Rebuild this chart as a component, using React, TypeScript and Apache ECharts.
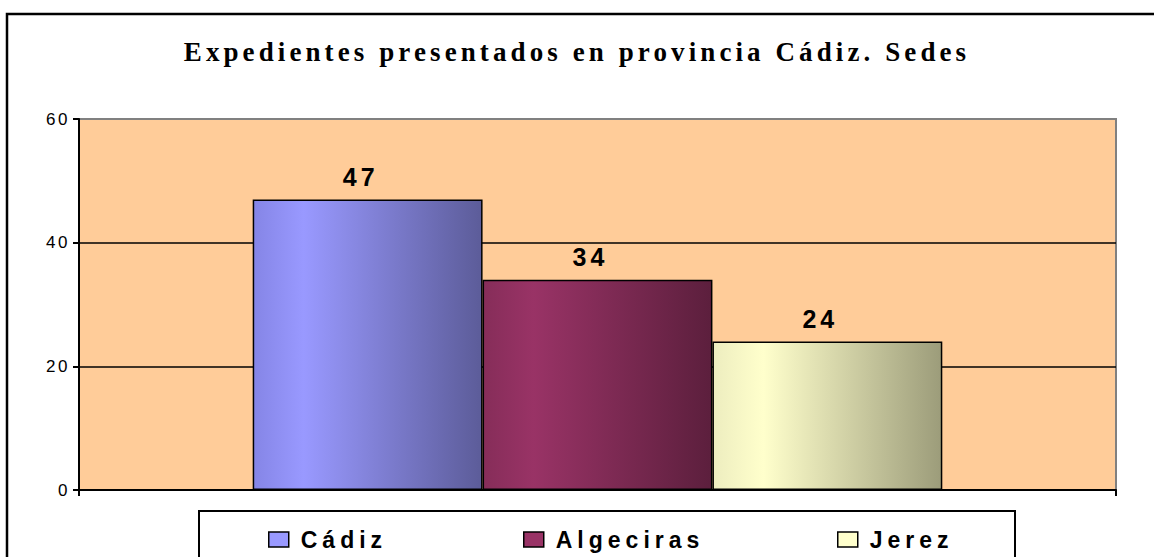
import React, { useEffect, useRef } from "react";
import * as echarts from "echarts";

const titleText = "Expedientes presentados en provincia Cádiz. Sedes";
const categories = ["Sedes"];
const seriesNames = ["Cádiz", "Algeciras", "Jerez"];
const values = [47, 34, 24];
const baseColors = ["#9999ff", "#993366", "#ffffcc"];
const gradStops = [
  ["#8585e6", "#9999ff", "#5c5c99"],
  ["#862d59", "#993366", "#5c1f3d"],
  ["#ededbf", "#ffffcc", "#9c9c7a"],
];
const yMin = 0;
const yMax = 60;
const yInterval = 20;
const legendLefts = [268, 523, 837];

export default function App() {
  const ref = useRef<HTMLDivElement>(null);
  useEffect(() => {
    if (!ref.current) return;
    const el = ref.current;
    const chart = echarts.init(el, null, { renderer: "svg" });
    const option: any = {
      animation: false,
      backgroundColor: "#ffffff",
      title: {
        text: titleText,
        left: "center",
        top: 33,
        textStyle: {
          fontFamily: "Liberation Serif",
          fontWeight: "bold",
          fontSize: 27,
          color: "#000",
        },
      },
      grid: {
        left: 79,
        top: 119,
        right: 38,
        bottom: 67,
        show: true,
        backgroundColor: "#ffcc99",
        borderColor: "#808080",
        borderWidth: 2,
      },
      legend: seriesNames.map((n, i) => ({
        data: [
          {
            name: n,
            icon: "rect",
            itemStyle: { color: baseColors[i], borderColor: "#000", borderWidth: 1.5 },
          },
        ],
        left: legendLefts[i],
        top: 528,
        padding: 0,
        itemWidth: 20,
        itemHeight: 15,
        selectedMode: false,
        textStyle: {
          fontFamily: "Liberation Sans",
          fontWeight: "bold",
          fontSize: 23,
          color: "#000",
          padding: [0, 0, 0, 7],
        },
      })),
      xAxis: {
        type: "category",
        data: categories,
        axisLine: { show: true, lineStyle: { color: "#000", width: 2 } },
        axisTick: { show: true, length: 6, lineStyle: { color: "#000", width: 2 } },
        axisLabel: { show: false },
        splitLine: { show: false },
      },
      yAxis: {
        type: "value",
        min: yMin,
        max: yMax,
        interval: yInterval,
        axisLine: { show: true, lineStyle: { color: "#000", width: 2 } },
        axisTick: { show: true, length: 6, lineStyle: { color: "#000", width: 2 } },
        axisLabel: {
          fontFamily: "Liberation Sans",
          fontSize: 17,
          color: "#000",
          margin: 9,
        },
        splitLine: {
          show: true,
          lineStyle: { color: ["#000", "#000", "#000", "#808080"], width: 1.5 },
        },
      },
      graphic: [
        {
          type: "rect",
          shape: { x: 7, y: 14, width: 1300, height: 700 },
          style: { fill: "none", stroke: "#000", lineWidth: 2.5 },
          silent: true,
          z: -10,
        },
        {
          type: "rect",
          shape: { x: 199, y: 511, width: 816, height: 100 },
          style: { fill: "#fff", stroke: "#000", lineWidth: 2 },
          silent: true,
          z: -5,
        },
      ],
      series: seriesNames.map((n, i) => ({
        name: n,
        type: "bar",
        data: [values[i]],
        barGap: "0%",
        barCategoryGap: "33.5%",
        itemStyle: {
          color: new echarts.graphic.LinearGradient(0, 0, 1, 0, [
            { offset: 0, color: gradStops[i][0] },
            { offset: 0.22, color: gradStops[i][1] },
            { offset: 1, color: gradStops[i][2] },
          ]),
          borderColor: "#000",
          borderWidth: 1.5,
        },
        label: {
          show: true,
          position: "top",
          distance: 10,
          offset: [-7, 0],
          fontFamily: "Liberation Sans",
          fontWeight: "bold",
          fontSize: 25,
          color: "#000",
        },
      })),
    };
    chart.setOption(option);
    const spacing = () => {
      el.querySelectorAll("text").forEach((t) => {
        const s = (t.textContent || "").trim();
        if (s === titleText) t.setAttribute("letter-spacing", "4.1");
        else if (seriesNames.includes(s)) t.setAttribute("letter-spacing", "5");
        else if (values.map(String).includes(s)) t.setAttribute("letter-spacing", "4");
        else if (/^\d+$/.test(s)) t.setAttribute("letter-spacing", "2.5");
      });
    };
    spacing();
    chart.on("finished", spacing);
    const raf = requestAnimationFrame(spacing);
    return () => {
      cancelAnimationFrame(raf);
      chart.dispose();
    };
  }, []);
  return (
    <div
      ref={ref}
      style={{ position: "absolute", left: 0, top: 0, width: 1154, height: 557 }}
    />
  );
}
